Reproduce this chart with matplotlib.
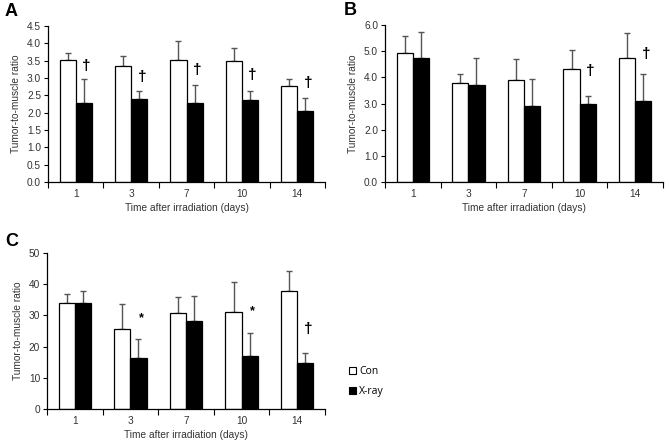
import matplotlib
matplotlib.use("Agg")
import matplotlib.pyplot as plt
from matplotlib.patches import Patch
import numpy as np

plt.rcParams['font.family'] = ['Liberation Sans', 'DejaVu Sans']

days = ["1", "3", "7", "10", "14"]

a_con = [3.53, 3.36, 3.51, 3.49, 2.78]
a_con_err = [0.20, 0.28, 0.56, 0.37, 0.19]
a_xray = [2.29, 2.38, 2.29, 2.36, 2.06]
a_xray_err = [0.68, 0.24, 0.52, 0.27, 0.37]
a_marks = ["†", "†", "†", "†", "†"]
a_mark_y = [3.35, 3.03, 3.22, 3.08, 2.86]

b_con = [4.92, 3.79, 3.89, 4.33, 4.73]
b_con_err = [0.67, 0.33, 0.81, 0.70, 0.97]
b_xray = [4.75, 3.72, 2.91, 2.99, 3.09]
b_xray_err = [1.00, 1.03, 1.01, 0.31, 1.02]
b_marks = ["", "", "", "†", "†"]
b_mark_y = [0, 0, 0, 4.25, 4.88]

c_con = [33.9, 25.7, 30.7, 31.0, 37.7]
c_con_err = [3.1, 7.9, 5.3, 9.8, 6.5]
c_xray = [33.9, 16.5, 28.3, 16.9, 14.8]
c_xray_err = [3.8, 5.9, 7.8, 7.3, 3.3]
c_marks = ["", "*", "", "*", "†"]
c_mark_y = [0, 29.0, 0, 31.3, 25.6]

fig = plt.figure(figsize=(6.69, 4.43), dpi=100)
W, H = 669, 443

def ax_at(l, r, t, b):
    return fig.add_axes([l / W, 1 - b / H, (r - l) / W, (b - t) / H])

txt_col = '#333333'

def panel(ax, con, con_err, xr, xr_err, marks, mark_y, ymax, ystep, fmt, letter, letter_xy):
    x = np.arange(len(days)) + 0.5
    bw = 0.29
    ax.bar(x - bw / 2, con, bw, color='white', edgecolor='black', linewidth=0.9, zorder=2)
    ax.bar(x + bw / 2, xr, bw, color='black', edgecolor='black', linewidth=0.9, zorder=2)
    ax.errorbar(x - bw / 2, con, yerr=[np.zeros(len(con)), con_err], fmt='none',
                ecolor='#555555', elinewidth=1.0, capsize=2.5, capthick=1.0, zorder=1)
    ax.errorbar(x + bw / 2, xr, yerr=[np.zeros(len(xr)), xr_err], fmt='none',
                ecolor='#555555', elinewidth=1.0, capsize=2.5, capthick=1.0, zorder=1)
    for xi, m, my in zip(x, marks, mark_y):
        if m:
            ax.text(xi + bw / 2 + 0.05, my, m, ha='center', va='center',
                    fontsize=11 if m == "†" else 9, fontweight='bold', color='black')
    ax.set_xlim(0, len(days))
    ax.set_ylim(0, ymax)
    ax.set_xticks(np.arange(len(days) + 1))
    ax.set_xticklabels([])
    ax.set_xticks(x, minor=True)
    ax.set_xticklabels(days, minor=True)
    ax.tick_params(axis='x', which='minor', length=0, pad=5, labelsize=7.3, labelcolor=txt_col)
    ax.tick_params(axis='x', which='major', length=4, width=0.8, direction='out')
    yt = np.arange(0, ymax + ystep / 2, ystep)
    ax.set_yticks(yt)
    ax.set_yticklabels([fmt.format(v) for v in yt])
    ax.tick_params(axis='y', length=3, width=0.8, labelsize=7.3, labelcolor=txt_col, pad=2)
    for s in ['top', 'right']:
        ax.spines[s].set_visible(False)
    for s in ['left', 'bottom']:
        ax.spines[s].set_linewidth(0.9)
    ax.set_xlabel("Time after irradiation (days)", fontsize=7.3, color=txt_col, labelpad=3)
    ax.set_ylabel("Tumor-to-muscle ratio", fontsize=7.3, color=txt_col, labelpad=4)
    fig.text(letter_xy[0] / W, 1 - letter_xy[1] / H, letter, fontsize=13, fontweight='bold',
             ha='left', va='top')

axA = ax_at(48, 325, 26, 182)
panel(axA, a_con, a_con_err, a_xray, a_xray_err, a_marks, a_mark_y, 4.5, 0.5, "{:.1f}", "A", (5, 3))
axB = ax_at(385, 663, 25, 182)
panel(axB, b_con, b_con_err, b_xray, b_xray_err, b_marks, b_mark_y, 6.0, 1.0, "{:.1f}", "B", (344, 2))
axC = ax_at(47, 325, 253, 409)
panel(axC, c_con, c_con_err, c_xray, c_xray_err, c_marks, c_mark_y, 50, 10, "{:.0f}", "C", (5, 233))

handles = [Patch(facecolor='white', edgecolor='black', linewidth=0.8, label='Con'),
           Patch(facecolor='black', edgecolor='black', linewidth=0.8, label='X-ray')]
fig.legend(handles=handles, loc='upper left', bbox_to_anchor=(349 / W, 1 - 366 / H),
           frameon=False, handlelength=0.7, handleheight=0.7,
           handletextpad=0.3, labelspacing=0.85, borderpad=0, borderaxespad=0,
           prop={'family': ['Open Sans', 'DejaVu Sans'], 'size': 7.5})

fig.savefig("out.png", dpi=100)
